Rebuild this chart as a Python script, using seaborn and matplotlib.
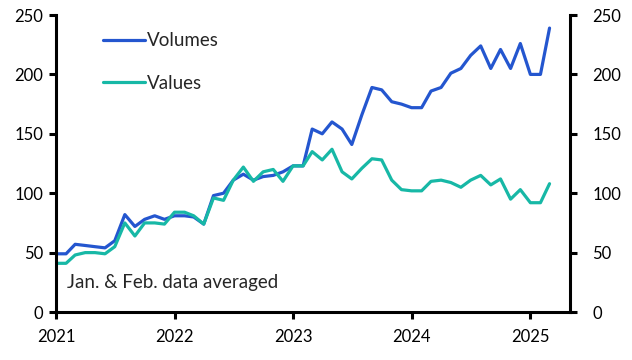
import pandas as pd
import numpy as np
import matplotlib.pyplot as plt
import matplotlib.dates as mdates
import seaborn as sns

sns.set_theme(style="white")
plt.rcParams['font.family'] = ['Lato', 'DejaVu Sans']

# Monthly data, Jan 2021 - Mar 2025 (index, Jan & Feb averaged)
dates = pd.date_range("2021-01-01", "2025-03-01", freq="MS")
volumes = [49, 49, 57, 56, 55, 54, 60, 82, 72, 78, 81, 78,
           81, 81, 80, 74, 98, 100, 111, 116, 111, 114, 115, 118,
           123, 123, 154, 150, 160, 154, 141, 166, 189, 187, 177, 175,
           172, 172, 186, 189, 201, 205, 216, 224, 205, 221, 205, 226,
           200, 200, 239]
values = [41, 41, 48, 50, 50, 49, 55, 75, 64, 75, 75, 74,
          84, 84, 81, 74, 96, 94, 111, 122, 110, 118, 120, 110,
          123, 123, 135, 128, 137, 118, 112, 121, 129, 128, 111, 103,
          102, 102, 110, 111, 109, 105, 111, 115, 107, 112, 95, 103,
          92, 92, 108]

series_names = ["Volumes", "Values"]
colors = ["#2456CF", "#17B8A6"]
y_ticks = [0, 50, 100, 150, 200, 250]
x_years = [2021, 2022, 2023, 2024, 2025]
note = "Jan. & Feb. data averaged"

df = pd.DataFrame({"date": list(dates) * 2,
                   "value": volumes + values,
                   "series": ["Volumes"] * len(volumes) + ["Values"] * len(values)})

fig = plt.figure(figsize=(6.32, 3.6), dpi=100)
ax = fig.add_axes([0.0886, 0.1333, 0.8133, 0.825])

sns.lineplot(data=df, x="date", y="value", hue="series", hue_order=series_names,
             palette=colors, linewidth=2.3, ax=ax)

ax.set_ylim(0, 250)
ax.set_xlim(pd.Timestamp("2021-01-01"), pd.Timestamp("2025-05-03"))
ax.set_yticks(y_ticks)
ax.set_xticks([pd.Timestamp(f"{y}-01-01") for y in x_years])
ax.xaxis.set_major_formatter(mdates.DateFormatter("%Y"))
ax.set_xlabel("")
ax.set_ylabel("")

for side in ["left", "right", "bottom"]:
    ax.spines[side].set_visible(True)
    ax.spines[side].set_color("black")
    ax.spines[side].set_linewidth(2.2)
ax.spines["top"].set_visible(False)

ax2 = ax.twinx()
ax2.set_ylim(ax.get_ylim())
ax2.set_yticks(y_ticks)
for side in ["left", "top", "bottom", "right"]:
    ax2.spines[side].set_visible(False)

for a in (ax, ax2):
    a.tick_params(axis="both", which="major", direction="out", length=5, width=2.2,
                  color="black", labelsize=12, labelcolor="black", pad=4)
ax.tick_params(axis="y", left=True, right=False)
ax.tick_params(axis="x", bottom=True, pad=7)
ax2.tick_params(axis="y", right=True, left=False, pad=11)

leg = ax.legend(loc="upper left", bbox_to_anchor=(0.0914, 0.942), frameon=False,
                fontsize=13.5, handlelength=2.25, handletextpad=0.1, labelspacing=1.36,
                borderpad=0, borderaxespad=0)
for line in leg.get_lines():
    line.set_linewidth(2.3)

ax.text(0.021, 0.1, note, transform=ax.transAxes, fontsize=13.5, va="center", ha="left")

fig.savefig("out.png", dpi=100)
